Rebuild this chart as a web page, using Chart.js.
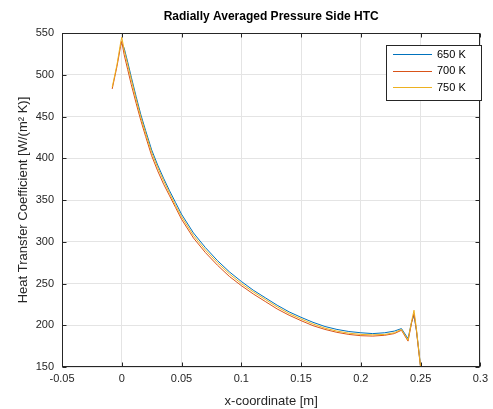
<!DOCTYPE html>
<html>
<head>
<meta charset="utf-8">
<script src="https://cdn.jsdelivr.net/npm/chart.js@4/dist/chart.umd.min.js"></script>
<style>
  html, body { margin: 0; padding: 0; background: #fff; }
  #wrap { width: 493px; height: 409px; }
</style>
</head>
<body>
<div id="wrap"><canvas id="graficoHtc" width="493" height="409"></canvas></div>
<script>
// -------------------- DADOS --------------------
const xCoord = [-0.008, -0.004, -0.001, 0.000, 0.002, 0.005, 0.008, 0.012, 0.016, 0.020,
  0.025, 0.030, 0.035, 0.040, 0.045, 0.050, 0.060, 0.070, 0.080, 0.090,
  0.100, 0.110, 0.120, 0.130, 0.140, 0.150, 0.160, 0.170, 0.180, 0.190,
  0.200, 0.210, 0.220, 0.228, 0.234, 0.2395, 0.2425, 0.2445, 0.2465, 0.2485, 0.250];

const htc650 = [null, null, null, 537, 532, 515, 497, 474, 452, 433,
  410, 392, 376, 361, 347, 333, 310.5, 293, 277.5, 264,
  252.5, 242, 233, 224, 216, 209.5, 203.5, 198.5, 195, 192.5,
  191, 190, 191, 193, 196, 184, 204, 212, 194, 170, 150];

const htc700 = [483, 510, 534, 540, 524, 506, 488, 466, 445, 426,
  403, 385, 369, 355, 341, 327, 304.5, 287, 272, 258.5,
  247.5, 237.5, 228.5, 219.5, 212, 205.5, 199.5, 195, 191.5, 189,
  187.5, 187, 188, 190, 194, 181, 203, 214, 194, 168, 150];

const htc750 = [485, 512, 538, 545, 530, 512, 494, 471, 449, 430,
  407, 389, 373, 358, 343.5, 330, 307.5, 290, 275, 261.5,
  250, 240, 231, 222, 214, 207.5, 201.5, 196.5, 193, 190.5,
  189, 188.5, 189, 191, 195, 182, 205, 218, 196, 170, 150];

const seriesLabels = ['650 K', '700 K', '750 K'];
const seriesColors = ['#0072BD', '#D95319', '#EDB120'];
const xTicks = [-0.05, 0, 0.05, 0.1, 0.15, 0.2, 0.25, 0.3];
const yTicks = [150, 200, 250, 300, 350, 400, 450, 500, 550];

const tituloGrafico = 'Radially Averaged Pressure Side HTC';
const tituloX = 'x-coordinate [m]';
const tituloY = 'Heat Transfer Coefficient [W/(m\u00B2 K)]';

const COR_EIXO = '#262626';
const FONTE = '"Liberation Sans", Arial, Helvetica, sans-serif';

function montarPontos(valores) {
  return xCoord.map((x, i) => ({ x: x, y: valores[i] }));
}

// -------------------- PLUGIN: TITULO, MOLDURA, LEGENDA --------------------
const molduraPlugin = {
  id: 'moldura',
  afterDraw(chart) {
    const { ctx, chartArea: a, scales } = chart;
    const l = Math.round(a.left) + 0.5;
    const r = Math.round(a.right) - 0.5;
    const t = Math.round(a.top) + 0.5;
    const b = Math.round(a.bottom) - 0.5;

    ctx.save();
    ctx.strokeStyle = COR_EIXO;
    ctx.lineWidth = 1;
    ctx.strokeRect(l, t, r - l, b - t);

    // marcas dos ticks para dentro
    ctx.beginPath();
    xTicks.forEach(v => {
      const px = Math.round(scales.x.getPixelForValue(v)) + 0.5;
      ctx.moveTo(px, b); ctx.lineTo(px, b - 4);
      ctx.moveTo(px, t); ctx.lineTo(px, t + 4);
    });
    yTicks.forEach(v => {
      const py = Math.round(scales.y.getPixelForValue(v)) + 0.5;
      ctx.moveTo(l, py); ctx.lineTo(l + 4, py);
      ctx.moveTo(r, py); ctx.lineTo(r - 4, py);
    });
    ctx.stroke();

    // titulo
    ctx.fillStyle = '#000';
    ctx.font = 'bold 12px ' + FONTE;
    ctx.textAlign = 'center';
    ctx.textBaseline = 'middle';
    ctx.fillText(tituloGrafico, (a.left + a.right) / 2, 17);

    // legenda
    const lx = 386, ly = 45, lw = 95, lh = 55;
    ctx.fillStyle = '#fff';
    ctx.fillRect(lx, ly, lw, lh);
    ctx.strokeStyle = COR_EIXO;
    ctx.strokeRect(lx + 0.5, ly + 0.5, lw, lh);
    const linhas = [54, 70.5, 87];
    ctx.font = '11px ' + FONTE;
    ctx.textAlign = 'left';
    seriesLabels.forEach((nome, i) => {
      const yy = Math.round(linhas[i]) + 0.5;
      ctx.strokeStyle = seriesColors[i];
      ctx.lineWidth = 1.2;
      ctx.beginPath();
      ctx.moveTo(393, yy); ctx.lineTo(432, yy);
      ctx.stroke();
      ctx.fillStyle = '#000';
      ctx.fillText(nome, 437, linhas[i] + 0.5);
    });
    ctx.restore();
  }
};

// -------------------- GRAFICO --------------------
const ctx = document.getElementById('graficoHtc').getContext('2d');
const datasets = [htc650, htc700, htc750].map((valores, i) => ({
  label: seriesLabels[i],
  data: montarPontos(valores),
  borderColor: seriesColors[i],
  backgroundColor: seriesColors[i],
  borderWidth: 1,
  pointRadius: 0,
  tension: 0,
  spanGaps: false,
  order: 2 - i,
}));

new Chart(ctx, {
  type: 'line',
  data: { datasets: datasets },
  options: {
    responsive: false,
    animation: false,
    devicePixelRatio: 1,
    layout: { padding: { left: 0, right: 10, top: 33, bottom: 0 } },
    plugins: {
      legend: { display: false },
      tooltip: { enabled: false },
      title: { display: false },
    },
    scales: {
      x: {
        type: 'linear',
        min: -0.05,
        max: 0.3,
        afterBuildTicks: s => { s.ticks = xTicks.map(v => ({ value: v })); },
        afterFit: s => { s.height = 42; },
        ticks: {
          callback: v => String(Math.round(v * 100) / 100),
          color: COR_EIXO,
          font: { family: FONTE, size: 11 },
          padding: 5,
          maxRotation: 0,
          autoSkip: false,
        },
        grid: { color: '#e4e4e4', drawTicks: false },
        border: { display: false },
        title: {
          display: true,
          text: tituloX,
          color: COR_EIXO,
          font: { family: FONTE, size: 13 },
          padding: { top: 0, bottom: 0 },
        },
      },
      y: {
        type: 'linear',
        min: 150,
        max: 550,
        afterBuildTicks: s => { s.ticks = yTicks.map(v => ({ value: v })); },
        afterFit: s => { s.width = 62; },
        ticks: {
          color: COR_EIXO,
          font: { family: FONTE, size: 11 },
          padding: 8,
          autoSkip: false,
        },
        grid: { color: '#e4e4e4', drawTicks: false },
        border: { display: false },
        title: {
          display: true,
          text: tituloY,
          color: COR_EIXO,
          font: { family: FONTE, size: 13 },
          padding: { top: 16, bottom: 0 },
        },
      },
    },
  },
  plugins: [molduraPlugin],
});
</script>
</body>
</html>
